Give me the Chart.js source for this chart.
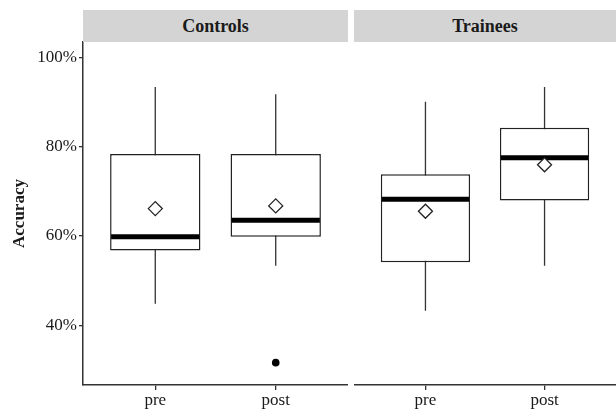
<!DOCTYPE html>
<html>
<head>
<meta charset="utf-8">
<script src="https://cdn.jsdelivr.net/npm/chart.js@4.4.1/dist/chart.umd.min.js"></script>
<style>
  html, body { margin: 0; padding: 0; background: #ffffff; }
  #wrap { position: relative; width: 616px; height: 409px; overflow: hidden; background: #fff; }
  canvas { position: absolute; top: 0; }
  #cL { left: 0; }
  #cR { left: 354px; }
  .strip { position: absolute; top: 10px; height: 32px; line-height: 32px; background: #d4d4d4;
           text-align: center; font-family: "Liberation Serif", "Times New Roman", serif;
           font-weight: bold; font-size: 18px; color: #1a1a1a; }
  #sL { left: 83px; width: 265px; }
  #sR { left: 354px; width: 262px; }
</style>
</head>
<body>
<div id="wrap">
  <canvas id="cL" width="348" height="409"></canvas>
  <canvas id="cR" width="262" height="409"></canvas>
  <div class="strip" id="sL"></div>
  <div class="strip" id="sR"></div>
</div>
<script>
// ---------------- data ----------------
const GROUPS = ['Controls', 'Trainees'];
const TIMES = ['pre', 'post'];
const Y_TICKS = [40, 60, 80, 100];
const Y_LABEL = 'Accuracy';

const CONTROLS_MIN    = [44.8, 53.3];
const CONTROLS_Q1     = [56.7, 59.8];
const CONTROLS_MEDIAN = [59.8, 63.5];
const CONTROLS_Q3     = [78.3, 78.3];
const CONTROLS_MAX    = [93.3, 91.7];
const CONTROLS_MEAN   = [66.1, 66.7];
const CONTROLS_OUTLIERS = [[], [31.6]];

const TRAINEES_MIN    = [43.2, 53.3];
const TRAINEES_Q1     = [54.1, 67.9];
const TRAINEES_MEDIAN = [68.2, 77.5];
const TRAINEES_Q3     = [73.8, 84.2];
const TRAINEES_MAX    = [90.0, 93.3];
const TRAINEES_MEAN   = [65.5, 75.9];
const TRAINEES_OUTLIERS = [[], []];

// ---------------- styling ----------------
const Y_MIN = 26.6, Y_MAX = 103.4;
const FONT = '"Liberation Serif", "Times New Roman", serif';
const TXT = '#1a1a1a';
const LINE = '#333333';

document.getElementById('sL').textContent = GROUPS[0];
document.getElementById('sR').textContent = GROUPS[1];

const medianPlugin = {
  id: 'medians',
  afterDatasetDraw(chart, args) {
    const ds = chart.data.datasets[args.index];
    if (!ds.medians) return;
    const ctx = chart.ctx;
    const ys = chart.scales.y;
    args.meta.data.forEach((el, i) => {
      const py = ys.getPixelForValue(ds.medians[i]);
      ctx.save();
      ctx.strokeStyle = '#000';
      ctx.lineWidth = 5;
      ctx.lineCap = 'butt';
      ctx.beginPath();
      ctx.moveTo(el.x - el.width / 2 + 1, py);
      ctx.lineTo(el.x + el.width / 2 - 1, py);
      ctx.stroke();
      ctx.restore();
    });
  }
};

function makeChart(id, s, showY) {
  const boxes = TIMES.map((t, i) => ({ x: i + 1, y: [s.q1[i], s.q3[i]] }));
  const whisk = [];
  TIMES.forEach((t, i) => {
    whisk.push({ x: i + 1, y: s.min[i] });
    whisk.push({ x: i + 1, y: s.max[i] });
    whisk.push({ x: i + 1.5, y: null });
  });
  const means = TIMES.map((t, i) => ({ x: i + 1, y: s.mean[i] }));
  const outs = [];
  s.out.forEach((arr, i) => arr.forEach(v => outs.push({ x: i + 1, y: v })));

  return new Chart(document.getElementById(id), {
    type: 'bar',
    data: {
      datasets: [
        { type: 'line', data: means, showLine: false, pointStyle: 'rectRot', pointRadius: 7,
          pointBackgroundColor: '#fff', pointBorderColor: '#222', pointBorderWidth: 1.3, order: 0 },
        { type: 'line', data: outs, showLine: false, pointStyle: 'circle', pointRadius: 3.8,
          pointBackgroundColor: '#000', pointBorderColor: '#000', pointBorderWidth: 0, order: 1 },
        { type: 'bar', data: boxes, medians: s.median, backgroundColor: '#fff', borderColor: '#222',
          borderWidth: 1.5, borderSkipped: false, barPercentage: 0.75, categoryPercentage: 1, order: 2 },
        { type: 'line', data: whisk, spanGaps: false, borderColor: LINE, borderWidth: 1.3,
          pointRadius: 0, fill: false, order: 3 }
      ]
    },
    plugins: [medianPlugin],
    options: {
      responsive: false,
      animation: false,
      events: [],
      layout: { autoPadding: false, padding: { top: 42, bottom: 0, left: 0, right: 0 } },
      plugins: { legend: { display: false }, tooltip: { enabled: false } },
      scales: {
        x: {
          type: 'linear', min: 0.4, max: 2.6, offset: false,
          afterBuildTicks: sc => { sc.ticks = TIMES.map((t, i) => ({ value: i + 1 })); },
          afterFit: sc => { sc.height = 24; },
          ticks: { callback: v => TIMES[v - 1], color: TXT, padding: 0,
                   font: { family: FONT, size: 17 }, maxRotation: 0, autoSkip: false },
          grid: { display: true, drawOnChartArea: false, drawTicks: true, tickLength: 5,
                  color: LINE, lineWidth: 1.3, offset: false },
          border: { display: true, color: LINE, width: 1.5 }
        },
        y: {
          type: 'linear', min: Y_MIN, max: Y_MAX, display: showY,
          afterBuildTicks: sc => { sc.ticks = Y_TICKS.map(v => ({ value: v })); },
          afterFit: sc => { sc.width = showY ? 83 : 0; },
          ticks: { callback: v => v + '%', color: TXT, padding: 2,
                   font: { family: FONT, size: 17 } },
          grid: { display: true, drawOnChartArea: false, drawTicks: true, tickLength: 4,
                  color: LINE, lineWidth: 1.3 },
          border: { display: true, color: LINE, width: 1.5 },
          title: { display: true, text: Y_LABEL, color: TXT, padding: { top: 9, bottom: 0 },
                   font: { family: FONT, size: 17, weight: 'bold' } }
        }
      }
    }
  });
}

makeChart('cL', { min: CONTROLS_MIN, q1: CONTROLS_Q1, median: CONTROLS_MEDIAN, q3: CONTROLS_Q3,
                  max: CONTROLS_MAX, mean: CONTROLS_MEAN, out: CONTROLS_OUTLIERS }, true);
makeChart('cR', { min: TRAINEES_MIN, q1: TRAINEES_Q1, median: TRAINEES_MEDIAN, q3: TRAINEES_Q3,
                  max: TRAINEES_MAX, mean: TRAINEES_MEAN, out: TRAINEES_OUTLIERS }, false);
</script>
</body>
</html>
